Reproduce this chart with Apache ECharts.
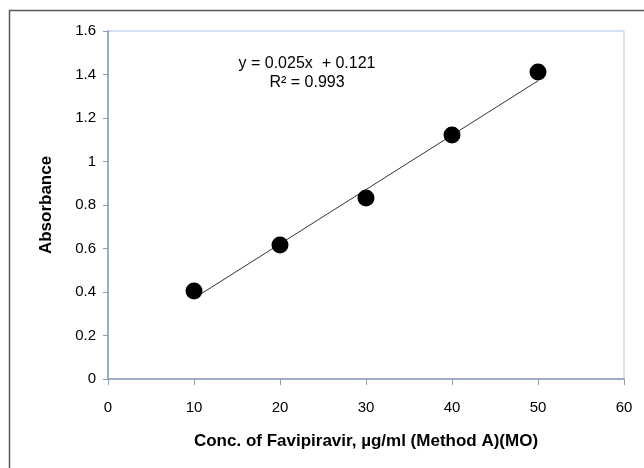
<!DOCTYPE html>
<html>
<head>
<meta charset="utf-8">
<script src="https://cdn.jsdelivr.net/npm/echarts@6/dist/echarts.min.js"></script>
<style>
  html, body { margin: 0; padding: 0; background: #fff; }
  #chart { width: 644px; height: 468px; }
</style>
</head>
<body>
<div id="chart"></div>
<script>
// calibration points
var conc = [10, 20, 30, 40, 50];
var absorbance = [0.405, 0.616, 0.832, 1.122, 1.411];
// linear fit shown on the chart
var slope = 0.025;
var intercept = 0.121;

var points = conc.map(function (x, i) { return [x, absorbance[i]]; });
var fitLine = [
  [conc[0], slope * conc[0] + intercept],
  [conc[conc.length - 1], slope * conc[conc.length - 1] + intercept]
];

var font = 'Liberation Sans, Arial, sans-serif';
var chart = echarts.init(document.getElementById('chart'));
chart.setOption({
  animation: false,
  textStyle: { fontFamily: font },
  graphic: [{
    type: 'rect',
    shape: { x: 9.5, y: 10.5, width: 700, height: 500 },
    style: { fill: 'none', stroke: '#595959', lineWidth: 1.5 }
  }, {
    type: 'text',
    x: 307, y: 73,
    z: 10,
    style: {
      text: 'y = 0.025x  + 0.121\nR\u00b2 = 0.993',
      align: 'center',
      verticalAlign: 'middle',
      fontSize: 16, lineHeight: 19,
      fill: '#000',
      fontFamily: font
    }
  }],
  grid: {
    left: 108, right: 20, top: 31, bottom: 89,
    show: true, borderColor: '#a9c4e8', borderWidth: 1, backgroundColor: '#fff'
  },
  xAxis: {
    type: 'value', min: 0, max: 60, interval: 10,
    name: 'Conc. of Favipiravir, \u00b5g/ml (Method A)(MO)',
    nameLocation: 'middle', nameGap: 54,
    nameTextStyle: { fontSize: 17, fontWeight: 'bold', color: '#000' },
    axisLine: { lineStyle: { color: '#8c9cb3', width: 1.5 } },
    axisTick: { inside: false, length: 6, lineStyle: { color: '#8c9cb3' } },
    axisLabel: { fontSize: 15, color: '#000', margin: 21 },
    splitLine: { show: false }
  },
  yAxis: {
    type: 'value', min: 0, max: 1.6, interval: 0.2,
    name: 'Absorbance',
    nameLocation: 'middle', nameGap: 53,
    nameTextStyle: { fontSize: 17, fontWeight: 'bold', color: '#000' },
    axisLine: { show: true, lineStyle: { color: '#8c9cb3', width: 1.5 } },
    axisTick: { show: true, length: 5, lineStyle: { color: '#8c9cb3' } },
    axisLabel: { fontSize: 15, color: '#000', margin: 12 },
    splitLine: { show: false }
  },
  series: [{
    type: 'line',
    data: fitLine,
    showSymbol: false,
    lineStyle: { color: '#333', width: 1 },
    z: 2
  }, {
    type: 'scatter',
    data: points,
    symbol: 'circle',
    symbolSize: 17,
    itemStyle: { color: '#000', opacity: 1 },
    z: 3
  }]
});
</script>
</body>
</html>
